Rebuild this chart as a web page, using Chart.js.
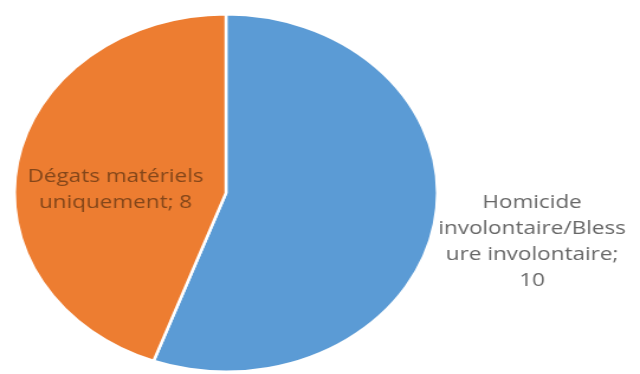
<!DOCTYPE html>
<html>
<head>
<meta charset="utf-8">
<script src="https://cdn.jsdelivr.net/npm/chart.js@4"></script>
<style>
  html, body { margin: 0; padding: 0; background: #fff; overflow: hidden; }
  /* the original pie is stretched horizontally, so the whole chart is */
  #wrap { width: 541px; height: 374px; transform: scaleX(1.183); transform-origin: 0 0; }
</style>
</head>
<body>
<div id="wrap"><canvas id="chartPie"></canvas></div>
<script>
// --- dati ---
var categorie = ['Homicide involontaire/Blessure involontaire', 'Dégats matériels uniquement'];
var valori = [10, 8];
var etichette = [
    ['Homicide', 'involontaire/Bless', 'ure involontaire;', '10'],
    ['Dégats matériels', 'uniquement; 8']
];
var colori = ['#5b9bd5', '#ed7d31'];

// posizione delle etichette: distanza dal centro (in raggi) lungo l'angolo medio della fetta
var stileEtichette = [
    { f: 1.47, dy: 3, colore: '#666666' },
    { f: 0.53, dy: 13, colore: '#83461a' }
];

var pluginEtichette = {
    id: 'etichette',
    afterDatasetsDraw: function (chart) {
        var ctx = chart.ctx;
        var meta = chart.getDatasetMeta(0);
        ctx.save();
        ctx.font = '19px "Open Sans"';
        ctx.textAlign = 'center';
        ctx.textBaseline = 'middle';
        meta.data.forEach(function (arc, i) {
            var p = arc.getProps(['x', 'y', 'startAngle', 'endAngle', 'outerRadius'], true);
            var mid = (p.startAngle + p.endAngle) / 2;
            var s = stileEtichette[i];
            var cx = p.x + Math.cos(mid) * p.outerRadius * s.f;
            var cy = p.y + Math.sin(mid) * p.outerRadius * s.f + s.dy;
            var righe = etichette[i];
            var lh = 26;
            ctx.fillStyle = s.colore;
            righe.forEach(function (t, k) {
                ctx.fillText(t, cx, cy + (k - (righe.length - 1) / 2) * lh);
            });
        });
        ctx.restore();
    }
};

new Chart(document.getElementById('chartPie'), {
    type: 'pie',
    data: {
        labels: categorie,
        datasets: [{
            data: valori,
            backgroundColor: colori,
            borderColor: '#ffffff',
            borderWidth: 2.5
        }]
    },
    options: {
        responsive: true,
        maintainAspectRatio: false,
        animation: false,
        layout: { padding: { top: 13, bottom: 1, left: 11, right: 170 } },
        plugins: {
            legend: { display: false },
            tooltip: { enabled: false }
        }
    },
    plugins: [pluginEtichette]
});
</script>
</body>
</html>
